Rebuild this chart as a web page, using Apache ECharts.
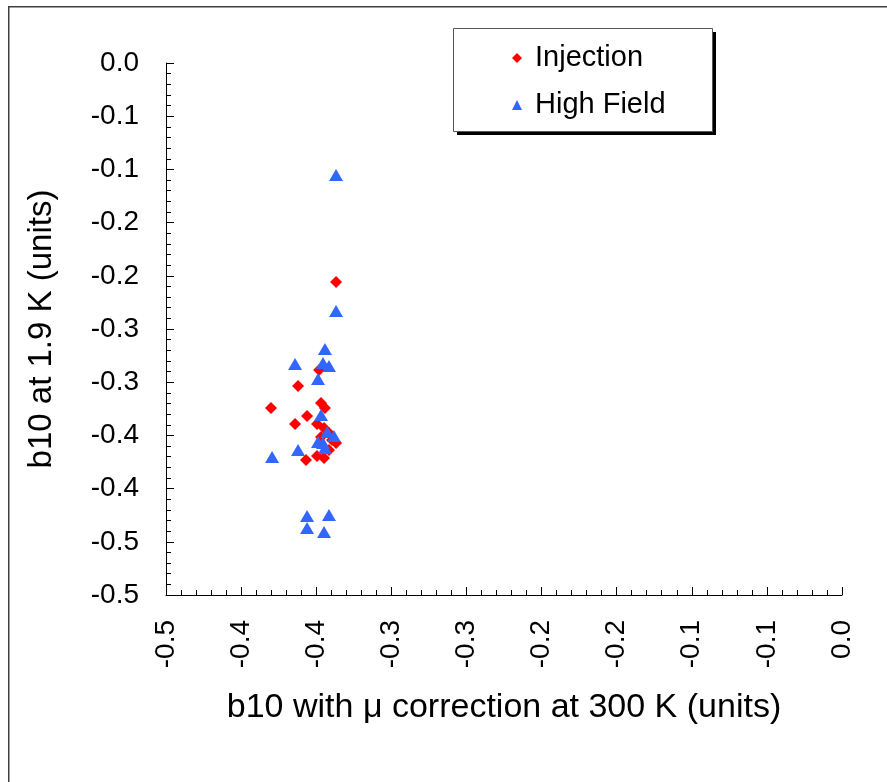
<!DOCTYPE html>
<html>
<head>
<meta charset="utf-8">
<script src="https://cdn.jsdelivr.net/npm/echarts@6/dist/echarts.min.js"></script>
<style>
html,body{margin:0;padding:0;background:#fff;}
#chart{width:887px;height:782px;}
</style>
</head>
<body>
<div id="chart"></div>
<script>
// Data
const injectionX = [-0.3368, -0.3481, -0.3621, -0.3801, -0.3468, -0.3442, -0.3561, -0.3641, -0.3495, -0.3448, -0.3415, -0.3468, -0.3395, -0.3368, -0.3415, -0.3495, -0.3448, -0.3568];
const injectionY = [-0.2058, -0.2885, -0.3036, -0.3242, -0.3195, -0.3242, -0.3318, -0.3393, -0.3393, -0.3430, -0.3477, -0.3515, -0.3543, -0.3571, -0.3637, -0.3694, -0.3712, -0.3731];

const highFieldX = [-0.3368, -0.3368, -0.3442, -0.3641, -0.3455, -0.3415, -0.3488, -0.3468, -0.3428, -0.3382, -0.3488, -0.3455, -0.3442, -0.3621, -0.3794, -0.3561, -0.3415, -0.3561, -0.3448];
const highFieldY = [-0.1053, -0.2331, -0.2688, -0.2829, -0.2820, -0.2848, -0.2970, -0.3308, -0.3468, -0.3506, -0.3562, -0.3571, -0.3618, -0.3637, -0.3703, -0.4258, -0.4248, -0.4370, -0.4408];

const seriesNames = ['Injection', 'High Field'];
const xTickLabels = ['0.0', '-0.1', '-0.1', '-0.2', '-0.2', '-0.3', '-0.3', '-0.4', '-0.4', '-0.5'];
const yTickLabels = ['0.0', '-0.1', '-0.1', '-0.2', '-0.2', '-0.3', '-0.3', '-0.4', '-0.4', '-0.5', '-0.5'];
const xTitle = 'b10 with \u03bc correction at 300 K (units)';
const yTitle = 'b10 at 1.9 K (units)';

const zip = (xs, ys) => xs.map((x, i) => [x, ys[i]]);
const FONT = '"Liberation Sans", Arial, sans-serif';
const tickIdx = v => Math.round(-v / 0.05);

const chart = echarts.init(document.getElementById('chart'), null, {renderer: 'canvas'});
chart.setOption({
  backgroundColor: '#ffffff',
  animation: false,
  textStyle: {fontFamily: FONT},
  graphic: [
    {type: 'rect', left: 8, top: 6, z: -10, shape: {x: 0, y: 0, width: 900, height: 800}, style: {fill: '#fff', stroke: '#404040', lineWidth: 1.5}},
    {type: 'rect', left: 457, top: 32, z: 5, shape: {width: 259, height: 103}, style: {fill: '#000'}},
    {type: 'rect', left: 453, top: 28, z: 6, shape: {width: 259, height: 103}, style: {fill: '#fff', stroke: '#555', lineWidth: 1}}
  ],
  legend: {
    orient: 'vertical',
    left: 512,
    top: 43,
    padding: 0,
    itemGap: 17,
    itemWidth: 10,
    itemHeight: 10,
    z: 10,
    textStyle: {fontSize: 29, color: '#000', fontFamily: FONT, lineHeight: 30, padding: [0, 0, 0, 8]},
    data: [
      {name: seriesNames[0], icon: 'diamond', itemStyle: {opacity: 1}},
      {name: seriesNames[1], icon: 'triangle', itemStyle: {opacity: 1}}
    ]
  },
  grid: {left: 166, right: 45, top: 63, bottom: 187, containLabel: false},
  xAxis: {
    type: 'value',
    min: -0.45, max: 0, interval: 0.05,
    name: xTitle,
    nameLocation: 'middle',
    nameGap: 96,
    nameTextStyle: {fontSize: 34, color: '#000', fontFamily: FONT},
    axisLine: {show: true, onZero: false, lineStyle: {color: '#000', width: 1}},
    axisTick: {show: true, inside: true, length: 8, lineStyle: {color: '#000'}},
    minorTick: {show: true, splitNumber: 5, length: 5, lineStyle: {color: '#000'}},
    splitLine: {show: false},
    axisLabel: {
      rotate: 90, margin: 25, fontSize: 28, color: '#000', fontFamily: FONT,
      formatter: v => xTickLabels[tickIdx(v)]
    }
  },
  yAxis: {
    type: 'value',
    min: -0.5, max: 0, interval: 0.05,
    name: yTitle,
    nameLocation: 'middle',
    nameGap: 108,
    nameTextStyle: {fontSize: 33, color: '#000', fontFamily: FONT},
    axisLine: {show: true, onZero: false, lineStyle: {color: '#000', width: 1}},
    axisTick: {show: true, inside: true, length: 8, lineStyle: {color: '#000'}},
    minorTick: {show: true, splitNumber: 5, length: 5, lineStyle: {color: '#000'}},
    splitLine: {show: false},
    axisLabel: {
      margin: 27, fontSize: 28, color: '#000', fontFamily: FONT,
      formatter: v => yTickLabels[tickIdx(v)]
    }
  },
  series: [
    {
      name: seriesNames[0], type: 'scatter', symbol: 'diamond', symbolSize: 12,
      itemStyle: {color: '#ff0000', opacity: 1}, z: 3,
      data: zip(injectionX, injectionY)
    },
    {
      name: seriesNames[1], type: 'scatter', symbol: 'triangle', symbolSize: [14, 12],
      itemStyle: {color: '#3366ff', opacity: 1}, z: 4,
      data: zip(highFieldX, highFieldY)
    }
  ]
});
</script>
</body>
</html>
